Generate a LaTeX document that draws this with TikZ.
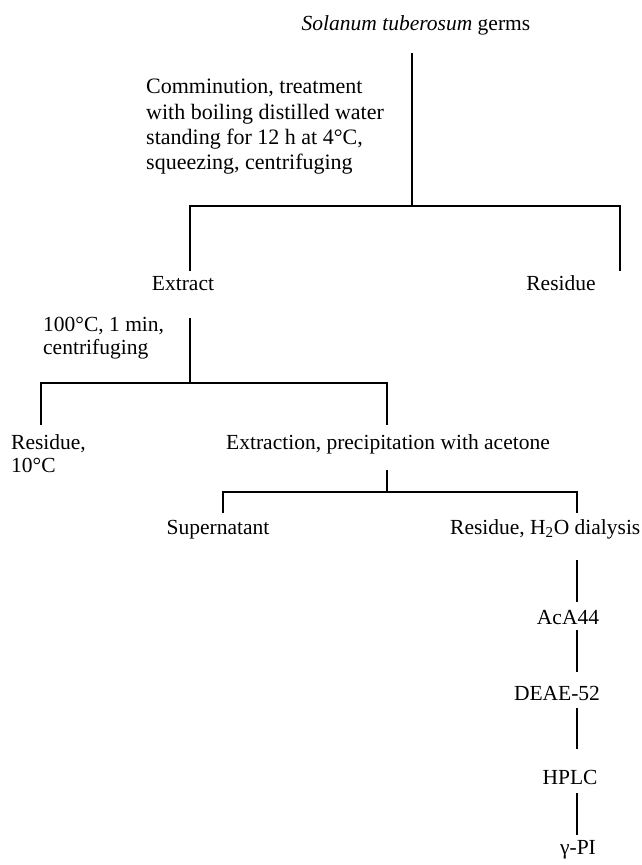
\documentclass[tikz,border=0pt]{standalone}
\usepackage{fontspec}
\setmainfont{Liberation Serif}
\begin{document}
\begin{tikzpicture}[x=1pt,y=-1pt,
  lbl/.style={inner sep=0pt, font=\fontsize{21.5}{23}\selectfont},
  ln/.style={line width=2.6pt, line join=miter}]
\useasboundingbox[fill=white] (0,0) rectangle (641,865);

% texts
\node[lbl, anchor=base] (germs) at (416,30) {\textit{Solanum tuberosum} germs};
\node[lbl, anchor=north west, align=left, font=\fontsize{22}{25.3}\selectfont] (comm) at (146,79)
  {Comminution, treatment\\with boiling distilled water\\standing for 12 h at 4°C,\\squeezing, centrifuging};
\node[lbl, anchor=base] (extract) at (183,290) {Extract};
\node[lbl, anchor=base] (res1) at (561,290) {Residue};
\node[lbl, anchor=north west, align=left] (heat) at (43,317) {100°C, 1 min,\\centrifuging};
\node[lbl, anchor=north west, align=left] (res2) at (11,434) {Residue,\\10°C};
\node[lbl, anchor=base] (extr) at (388,449) {Extraction, precipitation with acetone};
\node[lbl, anchor=base] (super) at (218,534) {Supernatant};
\node[lbl, anchor=base west] (res3) at (450,534) {Residue, H\textsubscript{2}O dialysis};
\node[lbl, anchor=base] (aca) at (568,624) {AcA44};
\node[lbl, anchor=base] (deae) at (557,700) {DEAE-52};
\node[lbl, anchor=base] (hplc) at (570,784) {HPLC};
\node[lbl, anchor=base] (gpi) at (578,854) {γ-PI};

% junction coordinates
\coordinate (t1) at (412,53);
\coordinate (j1) at (412,206);
\coordinate (e1) at (190,271);
\coordinate (r1) at (620,271);
\coordinate (t2) at (190,318);
\coordinate (j2) at (190,383);
\coordinate (e2) at (41,425);
\coordinate (r2) at (387,425);
\coordinate (t3) at (387,470);
\coordinate (j3) at (387,492);
\coordinate (e3) at (223,513);
\coordinate (r3) at (577,513);
\coordinate (a1) at (577,560);
\coordinate (a2) at (577,602);
\coordinate (b1) at (577,630);
\coordinate (b2) at (577,672);
\coordinate (c1) at (577,708);
\coordinate (c2) at (577,749);
\coordinate (d1) at (577,793);
\coordinate (d2) at (577,835);

% connectors
\draw[ln] (t1) -- (j1);
\draw[ln] (e1) |- (j1) -| (r1);
\draw[ln] (t2) -- (j2);
\draw[ln] (e2) |- (j2) -| (r2);
\draw[ln] (t3) -- (j3);
\draw[ln] (e3) |- (j3) -| (r3);
\draw[ln] (a1) -- (a2);
\draw[ln] (b1) -- (b2);
\draw[ln] (c1) -- (c2);
\draw[ln] (d1) -- (d2);
\end{tikzpicture}
\end{document}
